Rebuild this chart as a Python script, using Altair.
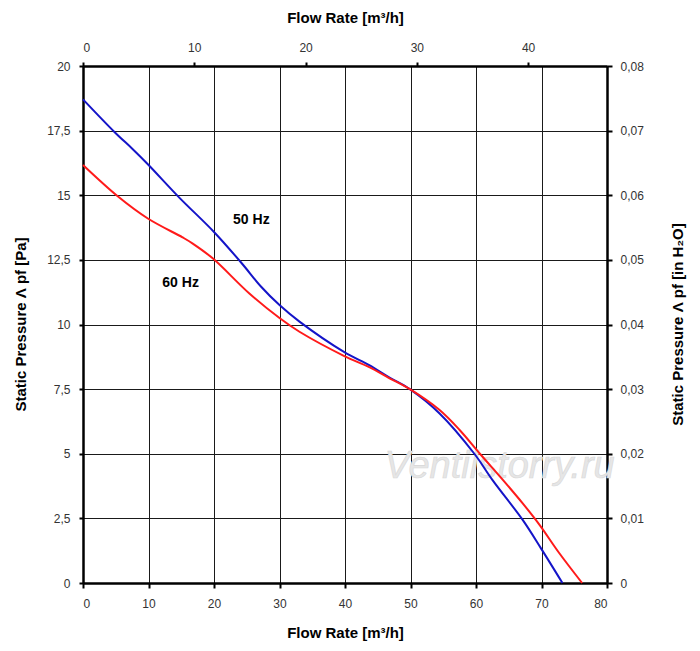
import altair as alt
import pandas as pd

# 50 Hz curve (Flow Rate m3/h, Static Pressure Pa)
flow_50 = [0, 4.8, 7.6, 9.9, 14.7, 20.0, 24.2, 27.2, 30, 33.05, 39.9, 43.7, 46.8, 49.9, 54.4, 59.75, 62.5, 67.1, 69.9, 73.2]
pres_50 = [18.71, 17.45, 16.78, 16.2, 14.91, 13.58, 12.38, 11.46, 10.75, 10.11, 8.93, 8.43, 7.95, 7.5, 6.57, 5.0, 3.99, 2.45, 1.35, 0.0]

# 60 Hz curve
flow_60 = [0, 5.3, 9.9, 15.2, 16.7, 19.8, 25.4, 30, 33.05, 39.9, 43.7, 46.8, 49.9, 54.4, 57.5, 60.6, 64.1, 67.1, 69.7, 72.7, 76.2]
pres_60 = [16.17, 14.96, 14.1, 13.37, 13.14, 12.56, 11.2, 10.25, 9.72, 8.78, 8.35, 7.92, 7.5, 6.7, 5.92, 5.0, 3.99, 3.09, 2.25, 1.16, 0.0]

series_names = ["50 Hz", "60 Hz"]
series_colors = ["#1414c8", "#ff1a1a"]

label_text = ["50 Hz", "60 Hz"]
label_x = [25.7, 14.9]
label_y = [14.04, 11.59]

bottom_ticks = [0, 10, 20, 30, 40, 50, 60, 70, 80]
left_ticks = [0, 2.5, 5, 7.5, 10, 12.5, 15, 17.5, 20]
top_ticks = [0, 10, 20, 30, 40]
right_ticks = [0, 0.01, 0.02, 0.03, 0.04, 0.05, 0.06, 0.07, 0.08]
top_domain = [0, 47.09]
right_domain = [0, 0.08]

watermark_text = ["Ventilstorry.ru"]
watermark_x = [63.6]
watermark_y = [4.49]

rows = []
for f, p in zip(flow_50, pres_50):
    rows.append({"flow": f, "pressure": p, "series": "50 Hz"})
for f, p in zip(flow_60, pres_60):
    rows.append({"flow": f, "pressure": p, "series": "60 Hz"})
df = pd.DataFrame(rows)

labels_df = pd.DataFrame({"text": label_text, "flow": label_x, "pressure": label_y})
wm_df = pd.DataFrame({"text": watermark_text, "flow": watermark_x, "pressure": watermark_y})
sec_df = pd.DataFrame({"cfm": top_domain, "inh2o": right_domain})

FONT = "Liberation Sans"
TITLE = "Flow Rate [m³/h]"

x_bottom = alt.X(
    "flow:Q",
    scale=alt.Scale(domain=[0, 80], nice=False),
    axis=alt.Axis(
        orient="bottom", values=bottom_ticks, title=TITLE, grid=True,
        gridColor="#1a1a1a", gridWidth=1, gridOpacity=1,
        domainColor="#000000", domainWidth=2.5, tickColor="#000000", tickWidth=2, tickSize=5,
        labelPadding=10, labelFont=FONT, labelFontSize=12, labelColor="#333333",
        titleFont=FONT, titleFontSize=15, titleFontWeight="bold", titleColor="#000000",
        titleX=262, titleY=49, titleAlign="center", titleBaseline="middle",
    ),
)
y_left = alt.Y(
    "pressure:Q",
    scale=alt.Scale(domain=[0, 20], nice=False),
    axis=alt.Axis(
        orient="left", values=left_ticks, title="Static Pressure Λ pf [Pa]", grid=True,
        gridColor="#1a1a1a", gridWidth=1, gridOpacity=1,
        labelExpr="replace(format(datum.value, '~g'), '.', ',')",
        domainColor="#000000", domainWidth=2.5, tickColor="#000000", tickWidth=2, tickSize=4,
        labelPadding=9, labelFont=FONT, labelFontSize=12, labelColor="#333333",
        titleFont=FONT, titleFontSize=15, titleFontWeight="bold", titleColor="#000000",
        titleX=-63, titleY=258, titleAngle=270, titleAlign="center", titleBaseline="middle",
    ),
)

lines = alt.Chart(df).mark_line(strokeWidth=2, interpolate="catmull-rom").encode(
    x=x_bottom,
    y=y_left,
    color=alt.Color("series:N", scale=alt.Scale(domain=series_names, range=series_colors), legend=None),
    detail="series:N",
)

watermark = alt.Chart(wm_df).mark_text(
    font=FONT, fontSize=38, fontStyle="italic", color="#e6e6e6", align="center", baseline="middle",
    stroke="#d8d8d8", strokeWidth=0.6,
).encode(x="flow:Q", y="pressure:Q", text="text:N")

labels = alt.Chart(labels_df).mark_text(
    font=FONT, fontSize=14, fontWeight="bold", color="#000000", align="center", baseline="middle",
).encode(x="flow:Q", y="pressure:Q", text="text:N")

main = alt.layer(watermark, lines, labels)

secondary = alt.Chart(sec_df).mark_point(opacity=0).encode(
    x=alt.X(
        "cfm:Q",
        scale=alt.Scale(domain=top_domain, nice=False),
        axis=alt.Axis(
            orient="top", values=top_ticks, title=TITLE, grid=False,
            domainColor="#000000", domainWidth=2.5, tickColor="#000000", tickWidth=2, tickSize=4,
            labelPadding=8, labelFont=FONT, labelFontSize=12, labelColor="#333333",
            titleFont=FONT, titleFontSize=15, titleFontWeight="bold", titleColor="#000000",
            titleX=262, titleY=-49, titleAlign="center", titleBaseline="middle",
        ),
    ),
    y=alt.Y(
        "inh2o:Q",
        scale=alt.Scale(domain=right_domain, nice=False),
        axis=alt.Axis(
            orient="right", values=right_ticks, title="Static Pressure Λ pf [in H₂O]", grid=False,
            labelExpr="datum.value == 0 ? '0' : replace(format(datum.value, '.2f'), '.', ',')",
            domainColor="#000000", domainWidth=2.5, tickColor="#000000", tickWidth=2, tickSize=5,
            labelPadding=8, labelFont=FONT, labelFontSize=12, labelColor="#333333",
            titleFont=FONT, titleFontSize=15, titleFontWeight="bold", titleColor="#000000",
            titleX=70, titleY=258, titleAngle=270, titleAlign="center", titleBaseline="middle",
        ),
    ),
)

chart = alt.layer(main, secondary).resolve_scale(
    x="independent", y="independent"
).properties(
    width=524, height=517,
    padding={"left": 75, "top": 58, "right": 85, "bottom": 60},
    autosize=alt.AutoSizeParams(type="none"),
).configure_view(stroke=None).configure(background="#ffffff")

chart.save("out.html", embed_options={"renderer": "svg", "actions": False})
